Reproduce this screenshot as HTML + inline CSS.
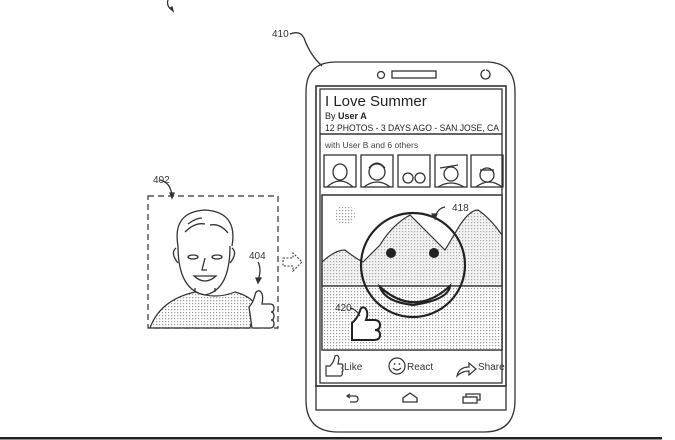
<!DOCTYPE html>
<html><head><meta charset="utf-8"><style>
html,body{margin:0;padding:0;background:#fff;width:675px;height:440px;overflow:hidden}
svg{display:block}
text{font-family:"Liberation Sans",sans-serif;fill:#333}
</style></head><body>
<svg width="675" height="440" viewBox="0 0 675 440" xmlns="http://www.w3.org/2000/svg">
<defs>
<pattern id="dots" width="3" height="3" patternUnits="userSpaceOnUse"><rect width="3" height="3" fill="#fff"/><rect width="1.2" height="1.2" fill="#999"/></pattern>
<pattern id="dots2" width="3" height="3" patternUnits="userSpaceOnUse"><rect width="3" height="3" fill="#f2f2f2"/><rect width="1.2" height="1.2" fill="#aaa"/></pattern>
</defs>
<g fill="none" stroke="#333" stroke-width="1.3">
<path d="M168 0 Q166 6 172 10" /><path d="M170 8 l3 3 l-1 -4z" fill="#333"/>
<path d="M290 34 Q300 30 304 38 Q310 55 322 66"/>
<path d="M306 92 Q306 62 336 62 L486 62 Q515 62 515 92 L515 400 Q515 432 484 432 L338 432 Q306 432 306 400 Z"/>
<circle cx="381" cy="75" r="3.5"/><rect x="392" y="71" width="44" height="7"/>
<path d="M485 70 a4.5 4.5 0 1 0 1 0" />
<rect x="316" y="86" width="190" height="300" stroke-width="1.6"/>
<rect x="320" y="89" width="182" height="294"/>
<line x1="320" y1="134" x2="502" y2="134" stroke-width="1.6"/>
<rect x="316" y="386" width="190" height="24"/>
<path d="M350 394 l-3 2 l3 2 M347 396 h8 q3 0 3 3 q0 3 -3 3 h-5"/>
<path d="M403 402 h14 v-4 l-7 -5 l-7 5 z"/>
<rect x="463" y="397" width="14" height="6"/><path d="M466 397 v-3 h14 v6 h-3"/>
<rect x="324" y="155" width="32" height="32"/><rect x="361" y="155" width="32" height="32"/><rect x="398" y="155" width="32" height="32"/><rect x="435" y="155" width="32" height="32"/><rect x="471" y="155" width="32" height="32"/>
<ellipse cx="340" cy="172" rx="7" ry="8"/><path d="M327 187 q13 -12 26 0"/>
<circle cx="377" cy="172" r="8"/><path d="M369 168 q8 -10 16 0"/><path d="M364 187 q13 -10 26 0"/>
<circle cx="408" cy="178" r="5"/><circle cx="420" cy="178" r="5"/>
<circle cx="451" cy="174" r="7"/><path d="M440 168 l18 -3"/><path d="M438 187 q13 -8 26 0"/>
<circle cx="487" cy="175" r="7"/><path d="M480 170 h14"/><path d="M476 187 q13 -10 26 0"/>
<rect x="322" y="195" width="180" height="155" fill="#fff"/>
</g>
<rect x="322" y="286" width="180" height="64" fill="url(#dots)"/>
<path d="M322 262 Q335 250 345 250 Q355 258 363 262 L380 245 Q392 225 410 215 Q430 235 445 250 L460 225 Q470 210 478 210 Q490 218 502 235 L502 286 L322 286 Z" fill="url(#dots2)" stroke="#333" stroke-width="1.2"/>
<circle cx="345" cy="215" r="10" fill="url(#dots)"/>
<g fill="none" stroke="#333" stroke-width="1.3">
<rect x="322" y="195" width="180" height="155"/>
<line x1="322" y1="286" x2="502" y2="286"/>
</g>
<g fill="none" stroke="#222" stroke-width="2.2">
<circle cx="413" cy="265" r="52"/>
<path d="M380 287 Q415 318 450 286 Q448 300 413 305 Q385 302 380 287Z"/>
</g>
<circle cx="391" cy="253" r="5" fill="#222"/><circle cx="434" cy="253" r="5" fill="#222"/>
<path d="M360 340 h14 q6 0 6 -5 q0 -5 -5 -5 q5 0 5 -5 q0 -5 -6 -5 h-8 q3 -8 -1 -12 q-4 -2 -5 3 q-3 8 -8 12 v17 z" fill="#fff" stroke="#222" stroke-width="2"/>
<g fill="none" stroke="#333" stroke-width="1.2">
<path d="M445 207 Q438 208 435 217"/><path d="M432 214 l3 5 l2 -5z" fill="#333"/>
<path d="M350 308 Q356 309 360 316"/>
<path d="M326 376 v-10 h4 q4 -4 5 -10 q3 -2 4 2 l-1 6 h4 q2 2 0 4 q2 2 0 4 q1 2 -1 4 z"/>
<circle cx="397" cy="366" r="8"/><path d="M393 368 q4 4 8 0"/>
<path d="M457 376 q2 -9 12 -9 v-4 l7 6 l-7 6 v-4 q-7 0 -12 5z"/>
</g>
<circle cx="394.5" cy="364" r="0.9" fill="#333"/><circle cx="399.5" cy="364" r="0.9" fill="#333"/>
<g font-size="10">
<text x="272" y="37">410</text>
<text x="452" y="211">418</text>
<text x="335" y="311">420</text>
<text x="344" y="370">Like</text>
<text x="407" y="370">React</text>
<text x="478" y="370">Share</text>
</g>
<text x="325" y="106" font-size="15" style="fill:#222">I Love Summer</text>
<text x="325" y="119" font-size="9" style="fill:#222">By <tspan font-weight="bold">User A</tspan></text>
<text x="325" y="131" font-size="9" textLength="174" lengthAdjust="spacingAndGlyphs" style="fill:#222">12 PHOTOS - 3 DAYS AGO - SAN JOSE, CA</text>
<text x="325" y="148" font-size="8.5" style="fill:#444">with User B and 6 others</text>
<rect x="148" y="196" width="130" height="132" fill="none" stroke="#333" stroke-width="1.2" stroke-dasharray="6,4"/>
<path d="M150 328 Q160 300 195 292 Q215 300 235 292 Q250 296 256 305 L250 328 Z" fill="url(#dots)" stroke="#333" stroke-width="1.2"/>
<g fill="none" stroke="#333" stroke-width="1.3">
<path d="M178 246 Q172 212 205 210 Q238 212 232 246"/>
<path d="M178 246 Q178 290 205 295 Q230 290 230 246"/>
<path d="M176 248 q-6 5 2 15 M232 248 q6 5 -2 15"/>
<path d="M185 232 q10 -10 20 -8 M210 225 q10 -2 18 8 M188 224 q8 -6 14 -6"/>
<ellipse cx="193" cy="257" rx="5" ry="2"/><ellipse cx="217" cy="257" rx="5" ry="2"/>
<path d="M205 258 l-3 12 h5"/>
<path d="M194 276 q11 10 22 0 z"/>
<path d="M195 292 v-4 M215 292 v-4"/>
<path d="M252 328 h18 q4 0 4 -4 q0 -4 -3 -4 q3 0 3 -4 q0 -4 -3 -4 q3 0 3 -4 q0 -4 -4 -4 h-8 q2 -10 -2 -13 q-4 -1 -5 4 q-2 8 -6 12 z" fill="#fff"/>
<path d="M160 180 Q170 182 172 195"/><path d="M170 193 l2 5 l2 -5z" fill="#333"/>
<path d="M258 262 Q262 270 258 280"/><path d="M256 278 l2 5 l3 -5z" fill="#333"/>
<path d="M283 258 h10 v-5 l9 9 l-9 9 v-5 h-10 z" stroke-dasharray="2,1.5" stroke-width="1"/>
</g>
<text x="153" y="183" font-size="10">402</text>
<text x="249" y="259" font-size="10">404</text>
<rect x="0" y="437" width="662" height="2.5" fill="#222"/>
</svg>
</body></html>
